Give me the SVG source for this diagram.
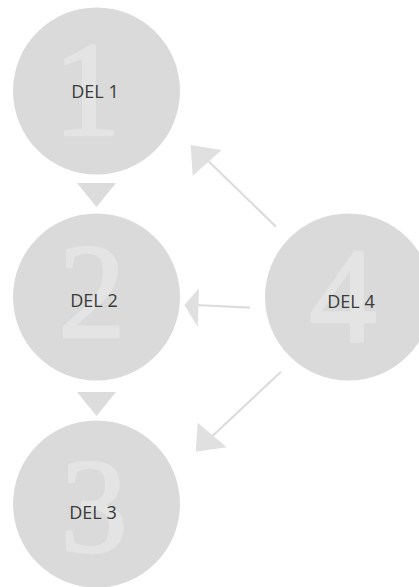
<svg xmlns="http://www.w3.org/2000/svg" width="419" height="587" viewBox="0 0 419 587">
<style>
.c{fill:#d9dad9}
.n{font-family:"Liberation Serif",serif;font-size:135px;fill:#e3e4e3;stroke:#e3e4e3;stroke-width:2.5;stroke-linejoin:round;text-anchor:middle}
.t{font-family:"Open Sans","Liberation Sans",sans-serif;font-size:18px;fill:#3a3a3a;text-anchor:middle}
.l{stroke:#dcdcdc;stroke-width:2.2;fill:none}
.h{fill:#e0e0e0}
.tri{fill:#dcdcdc}
</style>
<rect width="419" height="587" fill="#ffffff"/>
<g id="node1">
<circle class="c" cx="96.5" cy="91" r="83.5"/>
<text class="n" x="87" y="135">1</text>
<text class="t" x="95" y="98">DEL 1</text>
</g>
<g id="node2">
<circle class="c" cx="96.5" cy="297" r="83.5"/>
<text class="n" x="92" y="337">2</text>
<text class="t" x="94" y="307">DEL 2</text>
</g>
<g id="node3">
<circle class="c" cx="96.5" cy="504" r="83.5"/>
<text class="n" x="94" y="552">3</text>
<text class="t" x="93" y="519">DEL 3</text>
</g>
<g id="node4">
<circle class="c" cx="348.5" cy="297" r="83.5"/>
<text class="n" x="343" y="342">4</text>
<text class="t" x="351" y="308">DEL 4</text>
</g>
<g id="connectors">
<polygon class="tri" points="77,183 116,183 96.5,207"/>
<polygon class="tri" points="77,392 116,392 96.5,416"/>
<line class="l" x1="276" y1="226.7" x2="201" y2="154"/>
<polygon class="h" points="190.7,145 221.7,150 192.7,175.7"/>
<line class="l" x1="250" y1="307.7" x2="195" y2="305"/>
<polygon class="h" points="184.3,305 199,288.3 197.7,326.7"/>
<line class="l" x1="281" y1="371.7" x2="206" y2="442"/>
<polygon class="h" points="195.7,451.7 197.7,422.7 226.7,447.3"/>
</g>
</svg>
